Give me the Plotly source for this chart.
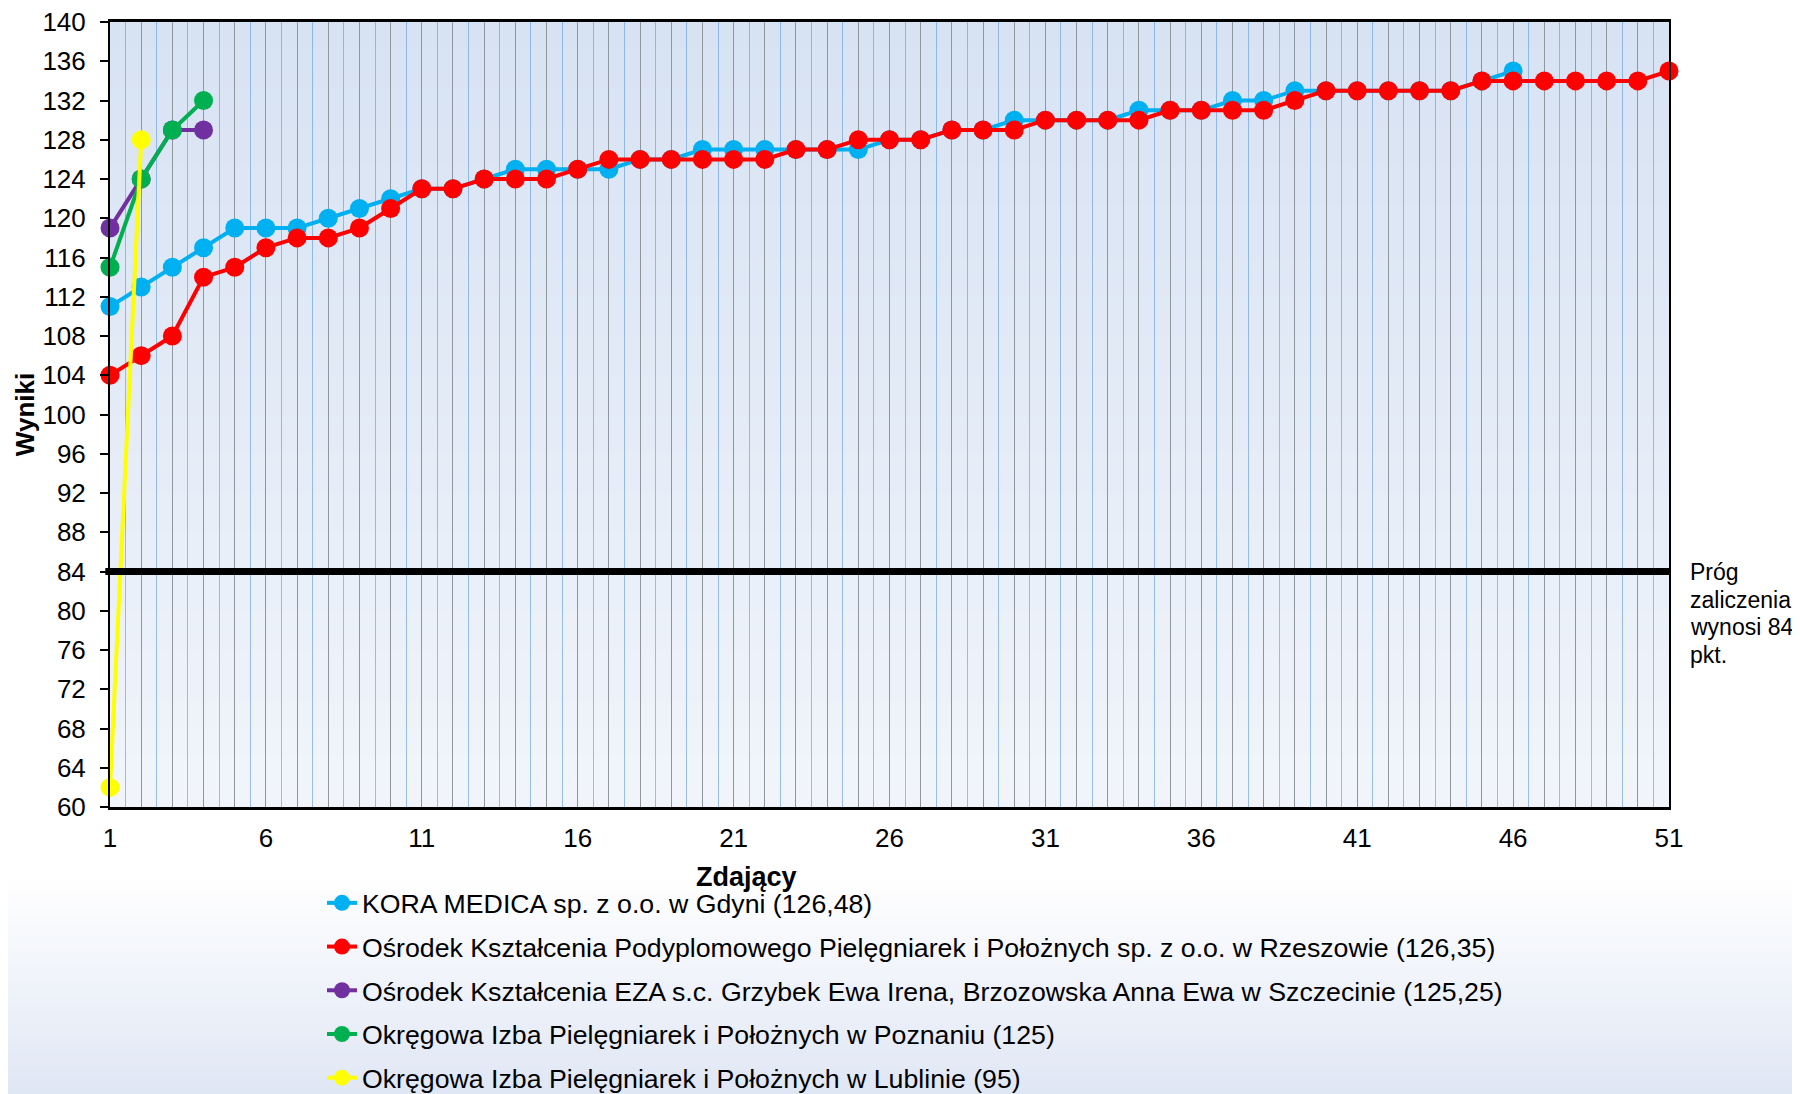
import plotly.graph_objects as go

# ---------------- data ----------------
kora = [111, 113, 115, 117, 119, 119, 119, 120, 121, 122,
        123, 123, 124, 125, 125, 125, 125, 126, 126, 127,
        127, 127, 127, 127, 127, 128, 128, 129, 129, 130,
        130, 130, 130, 131, 131, 131, 132, 132, 133, 133,
        133, 133, 133, 133, 134, 135]
rzeszow = [104, 106, 108, 114, 115, 117, 118, 118, 119, 121,
           123, 123, 124, 124, 124, 125, 126, 126, 126, 126,
           126, 126, 127, 127, 128, 128, 128, 129, 129, 129,
           130, 130, 130, 130, 131, 131, 131, 131, 132, 133,
           133, 133, 133, 133, 134, 134, 134, 134, 134, 134, 135]
szczecin = [119, 124, 129, 129]
poznan = [115, 124, 129, 132]
lublin = [62, 128]

names = [
    "KORA MEDICA sp. z o.o. w Gdyni (126,48)",
    "Ośrodek Kształcenia Podyplomowego Pielęgniarek i Położnych sp. z o.o. w Rzeszowie (126,35)",
    "Ośrodek Kształcenia EZA s.c. Grzybek Ewa Irena, Brzozowska Anna Ewa w Szczecinie (125,25)",
    "Okręgowa Izba Pielęgniarek i Położnych w Poznaniu (125)",
    "Okręgowa Izba Pielęgniarek i Położnych w Lublinie (95)",
]
series = [kora, rzeszow, szczecin, poznan, lublin]
colors = ["#00b0f0", "#ff0000", "#7030a0", "#00b050", "#ffff00"]

threshold = 84
threshold_lines = ["Próg", "zaliczenia", "wynosi 84", "pkt."]
x_title = "Zdający"
y_title = "Wyniki"

FONT = "Liberation Sans, Arial, sans-serif"

# page offset (browser body margin) compensation
OFF = 8
W, H = 1800 - OFF, 1094 - OFF
L, T = 110 - OFF, 22 - OFF
R = W - (1669 - OFF)
B = H - (807 - OFF)
PW = W - L - R
PH = H - T - B


def px_x(px):  # px in window coords
    return (px - OFF - L) / PW


def px_y(py):
    return (H - B - (py - OFF)) / PH


fig = go.Figure()
for i, (vals, name, col) in enumerate(zip(series, names, colors)):
    fig.add_trace(go.Scatter(
        x=list(range(1, len(vals) + 1)), y=vals, name=name,
        mode="lines+markers",
        line=dict(color=col, width=4),
        marker=dict(color=col, size=19),
        cliponaxis=False, legendgroup=f"g{i}",
    ))

# invisible trace to activate overlay axis (blue half-step grid)
fig.add_trace(go.Scatter(x=[], y=[], xaxis="x2", showlegend=False, hoverinfo="skip"))

shapes = []
# plot-area vertical gradient
n = 60
top = (215, 226, 243)
bot = (241, 245, 251)
for k in range(n):
    t = k / (n - 1)
    c = tuple(round(top[j] + (bot[j] - top[j]) * t) for j in range(3))
    shapes.append(dict(type="rect", xref="x domain", yref="y domain",
                       x0=0, x1=1, y1=1 - k / n, y0=1 - (k + 1) / n - 0.001,
                       fillcolor=f"rgb{c}", line=dict(width=0), layer="below"))
# page bottom gradient
pb_top = px_y(880)
pb_bot = px_y(1100)
m = 40
ptop = (255, 255, 255)
pbot = (223, 230, 244)
for k in range(m):
    t = (k + 1) / m
    c = tuple(round(ptop[j] + (pbot[j] - ptop[j]) * t) for j in range(3))
    y1 = pb_top + (pb_bot - pb_top) * k / m
    y0 = pb_top + (pb_bot - pb_top) * (k + 1) / m - 0.002
    shapes.append(dict(type="rect", xref="paper", yref="paper",
                       x0=px_x(-10), x1=px_x(1810), y0=y0, y1=y1,
                       fillcolor=f"rgb{c}", line=dict(width=0), layer="below"))
# threshold line
shapes.append(dict(type="line", xref="x domain", yref="y",
                   x0=-0.003, x1=1, y0=threshold, y1=threshold,
                   line=dict(color="black", width=7), layer="above"))

annotations = [
    dict(text=f"<b>{x_title}</b>", xref="paper", yref="paper",
         x=px_x(746), y=px_y(877), xanchor="center",
         yanchor="middle", showarrow=False, font=dict(size=27)),
]
for i, line in enumerate(threshold_lines):
    annotations.append(dict(text=line, xref="paper", yref="paper",
                            x=px_x(1688), y=px_y(572 + 27.5 * i),
                            xanchor="left", yanchor="middle", align="left",
                            showarrow=False, font=dict(size=23)))

fig.update_layout(
    width=W, height=H,
    margin=dict(l=L, r=R, t=T, b=B, autoexpand=False),
    paper_bgcolor="white",
    plot_bgcolor="rgba(0,0,0,0)",
    font=dict(family=FONT, size=26, color="black"),
    shapes=shapes,
    showlegend=True,
    legend=dict(x=px_x(322), y=px_y(879), xanchor="left", yanchor="top",
                bgcolor="rgba(0,0,0,0)", font=dict(size=26.7, family=FONT),
                tracegroupgap=6, itemwidth=30),
    xaxis=dict(range=[1, 51], tick0=1, dtick=5, showgrid=True,
               gridcolor="#90969d", gridwidth=1.2,
               minor=dict(tick0=1, dtick=1, showgrid=True,
                          gridcolor="#90969d", gridwidth=1.2),
               showline=True, linecolor="black", linewidth=2.5, mirror=True,
               ticks="", ticklabelstandoff=6, zeroline=False,
               ticklabeloverflow="allow",
               tickfont=dict(size=26)),
    xaxis2=dict(overlaying="x", matches="x", range=[1, 51], tick0=1.5, dtick=1,
                showgrid=True, gridcolor="rgba(91,155,213,0.6)", gridwidth=1,
                showticklabels=False, ticks="", zeroline=False, showline=False),
    yaxis=dict(range=[60, 140], tick0=60, dtick=4, showgrid=False,
               showline=True, linecolor="black", linewidth=2, mirror=True,
               ticks="outside", ticklen=8, tickcolor="black", tickwidth=1.5,
               ticklabelstandoff=9, ticklabeloverflow="allow",
               zeroline=False, tickfont=dict(size=26),
               title=dict(text=f"<b>{y_title}</b>", standoff=0,
                          font=dict(size=26))),
    annotations=annotations,
)

fig.write_html("out.html")
